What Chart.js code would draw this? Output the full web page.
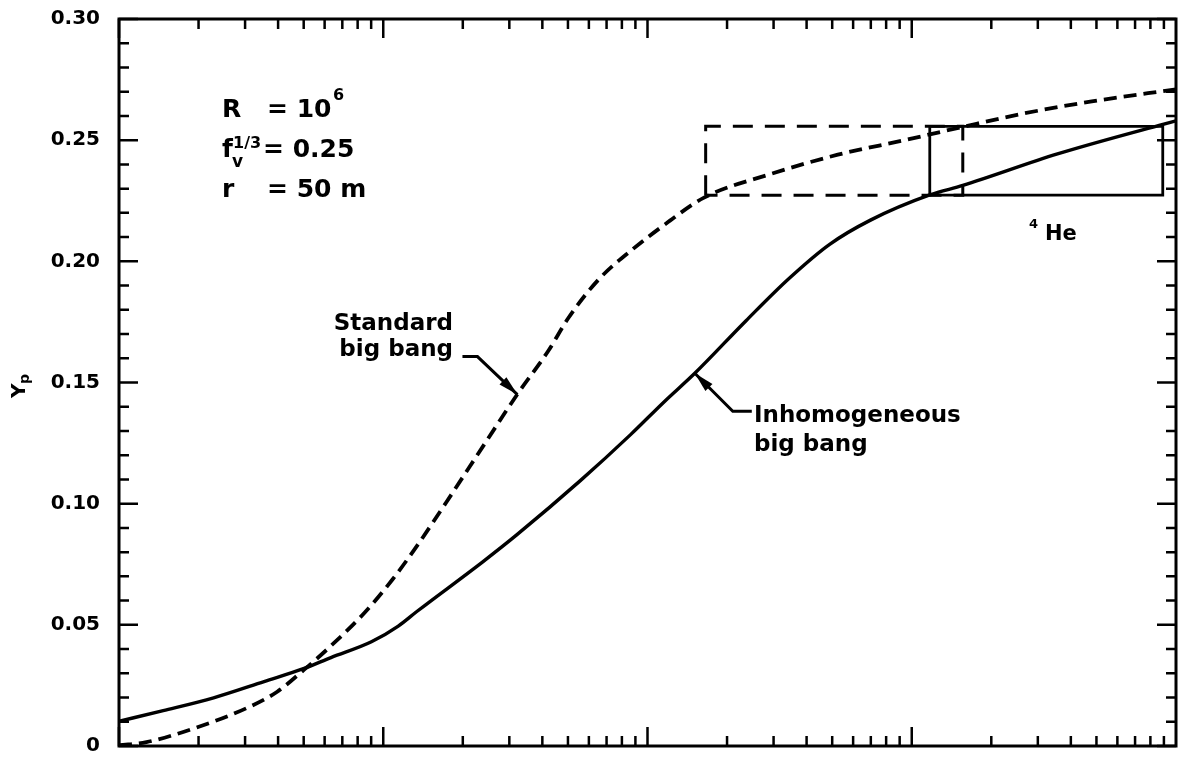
<!DOCTYPE html>
<html>
<head>
<meta charset="utf-8">
<script src="https://cdn.jsdelivr.net/npm/chart.js@4.4.1/dist/chart.umd.min.js"></script>
<style>
  html, body { margin: 0; padding: 0; background: #fff; }
  #wrap { width: 1183px; height: 762px; }
</style>
</head>
<body>
<div id="wrap"><canvas id="myChart" width="1183" height="762"></canvas></div>
<script>
// log x axis (baryon density, no labels printed), linear y axis Yp
const xMin = 1e-4;
const xMax = 1;
const yMin = 0;
const yMax = 0.30;
const yLabelStep = 0.05;
const yMinorStep = 0.01;

// standard big bang (dashed)
const standardX = [1.00e-4, 1.27e-4, 1.96e-4, 3.05e-4, 3.97e-4, 5.02e-4, 6.35e-4, 8.53e-4, 1.08e-3, 1.35e-3,
  1.73e-3, 2.47e-3, 3.22e-3, 4.21e-3, 5.01e-3, 6.53e-3, 8.79e-3, 1.18e-2, 1.63e-2, 2.92e-2,
  5.25e-2, 9.40e-2, 0.156, 0.265, 0.480, 1.0];
const standardY = [0.0003, 0.0016, 0.0076, 0.0157, 0.0224, 0.0315, 0.0414, 0.0552, 0.0685, 0.0830,
  0.1005, 0.1262, 0.1452, 0.1630, 0.1765, 0.1925, 0.2050, 0.2157, 0.2262, 0.2360,
  0.2440, 0.2500, 0.2555, 0.2610, 0.2660, 0.2710];

// inhomogeneous big bang (solid)
const inhomX = [1.00e-4, 1.47e-4, 2.28e-4, 3.54e-4, 5.02e-4, 6.34e-4, 9.02e-4, 1.14e-3, 1.34e-3, 2.38e-3,
  3.19e-3, 5.57e-3, 8.65e-3, 1.16e-2, 1.51e-2, 2.36e-2, 3.44e-2, 4.89e-2, 6.98e-2, 0.117,
  0.156, 0.356, 0.863, 1.0];
const inhomY = [0.0102, 0.0146, 0.0199, 0.0266, 0.0320, 0.0365, 0.0430, 0.0495, 0.0555, 0.0760,
  0.0870, 0.1095, 0.1286, 0.1422, 0.1538, 0.1755, 0.1930, 0.2070, 0.2170, 0.2274,
  0.2313, 0.2443, 0.2561, 0.2580];

// 4He allowed band and the x ranges it gives for each model
const heBandY = [0.2273, 0.2557];
const standardBoxX = [1.66e-2, 0.156];
const inhomBoxX = [0.117, 0.891];

// where the label arrows touch the curves
const standardArrowTip = [3.22e-3, 0.1450];
const inhomArrowTip = [1.51e-2, 0.1538];

const FONT = '"DejaVu Sans", sans-serif';

function pairs(xs, ys) {
  return xs.map((x, i) => ({ x: x, y: ys[i] }));
}

function boxPath(xs, ys) {
  return [
    { x: xs[0], y: ys[0] }, { x: xs[0], y: ys[1] },
    { x: xs[1], y: ys[1] }, { x: xs[1], y: ys[0] },
    { x: xs[0], y: ys[0] }
  ];
}

function arrow(ctx, pts) {
  ctx.beginPath();
  ctx.moveTo(pts[0][0], pts[0][1]);
  for (let i = 1; i < pts.length; i++) ctx.lineTo(pts[i][0], pts[i][1]);
  ctx.stroke();
  const [tx, ty] = pts[pts.length - 1];
  const [px, py] = pts[pts.length - 2];
  const a = Math.atan2(ty - py, tx - px);
  const L = 20, W = 5;
  const c = Math.cos(a), s = Math.sin(a);
  ctx.beginPath();
  ctx.moveTo(tx, ty);
  ctx.lineTo(tx - L * c + W * s, ty - L * s - W * c);
  ctx.lineTo(tx - L * c - W * s, ty - L * s + W * c);
  ctx.closePath();
  ctx.fill();
}

const frameTicks = {
  id: 'frameTicks',
  afterDatasetsDraw(chart) {
    const { ctx, chartArea: a, scales: { x, y } } = chart;
    ctx.save();
    ctx.strokeStyle = '#000';
    ctx.lineWidth = 3;
    ctx.strokeRect(a.left, a.top, a.right - a.left, a.bottom - a.top);

    ctx.lineWidth = 2.5;
    ctx.beginPath();
    // x ticks, top and bottom, pointing in
    for (let e = Math.log10(xMin); e < Math.log10(xMax); e++) {
      for (let k = 1; k <= 9; k++) {
        const px = x.getPixelForValue(k * Math.pow(10, e));
        const len = k === 1 ? 19 : 10;
        ctx.moveTo(px, a.bottom); ctx.lineTo(px, a.bottom - len);
        ctx.moveTo(px, a.top); ctx.lineTo(px, a.top + len);
      }
    }
    // y ticks, left and right
    const n = Math.round((yMax - yMin) / yMinorStep);
    for (let i = 0; i <= n; i++) {
      const py = y.getPixelForValue(yMin + i * yMinorStep);
      const len = i % Math.round(yLabelStep / yMinorStep) === 0 ? 19 : 10;
      ctx.moveTo(a.left, py); ctx.lineTo(a.left + len, py);
      ctx.moveTo(a.right, py); ctx.lineTo(a.right - len, py);
    }
    ctx.stroke();
    ctx.restore();
  },
  afterDraw(chart) {
    const { ctx, scales: { x, y } } = chart;
    ctx.save();
    ctx.fillStyle = '#000';
    ctx.strokeStyle = '#000';
    ctx.textBaseline = 'alphabetic';

    // y axis title: Y with subscript p, rotated
    ctx.save();
    ctx.translate(25, 398);
    ctx.rotate(-Math.PI / 2);
    ctx.font = 'bold 20px ' + FONT;
    ctx.fillText('Y', 0, 0);
    ctx.font = 'bold 14px ' + FONT;
    ctx.fillText('p', 14, 4);
    ctx.restore();

    // parameter block
    ctx.font = 'bold 25px ' + FONT;
    ctx.fillText('R', 222, 117);
    ctx.fillText('= 10', 267, 117);
    ctx.fillText('f', 222, 157);
    ctx.fillText('= 0.25', 263, 157);
    ctx.fillText('r', 222, 197);
    ctx.fillText('= 50 m', 267, 197);
    ctx.font = 'bold 16px ' + FONT;
    ctx.fillText('6', 333, 100);
    ctx.fillText('1/3', 233, 148);
    ctx.font = 'bold 17px ' + FONT;
    ctx.fillText('v', 232, 167);

    // curve labels
    ctx.font = 'bold 23px ' + FONT;
    ctx.textAlign = 'right';
    ctx.fillText('Standard', 453, 330);
    ctx.fillText('big bang', 453, 356);
    ctx.textAlign = 'left';
    ctx.fillText('Inhomogeneous', 754, 422);
    ctx.fillText('big bang', 754, 451);

    ctx.font = 'bold 21px ' + FONT;
    ctx.fillText('He', 1045, 240);
    ctx.font = 'bold 13px ' + FONT;
    ctx.fillText('4', 1029, 228);

    // arrows
    ctx.lineWidth = 3;
    const st = [x.getPixelForValue(standardArrowTip[0]), y.getPixelForValue(standardArrowTip[1])];
    arrow(ctx, [[st[0] - 55, st[1] - 38], [st[0] - 40, st[1] - 38], st]);
    const it = [x.getPixelForValue(inhomArrowTip[0]), y.getPixelForValue(inhomArrowTip[1])];
    arrow(ctx, [[it[0] + 57, it[1] + 38], [it[0] + 38, it[1] + 38], it]);
    ctx.restore();
  }
};

const datasets = [];
datasets.push({
  label: 'Standard big bang',
  data: pairs(standardX, standardY),
  borderColor: '#000',
  borderWidth: 3.8,
  borderDash: [13, 7],
  cubicInterpolationMode: 'monotone',
  pointRadius: 0,
  showLine: true,
});
datasets.push({
  label: 'Inhomogeneous big bang',
  data: pairs(inhomX, inhomY),
  borderColor: '#000',
  borderWidth: 3.4,
  cubicInterpolationMode: 'monotone',
  pointRadius: 0,
  showLine: true,
});
datasets.push({
  label: 'Standard 4He range',
  data: boxPath(standardBoxX, heBandY),
  borderColor: '#000',
  borderWidth: 3,
  borderDash: [20, 12],
  tension: 0,
  pointRadius: 0,
  showLine: true,
});
datasets.push({
  label: 'Inhomogeneous 4He range',
  data: boxPath(inhomBoxX, heBandY),
  borderColor: '#000',
  borderWidth: 2.8,
  tension: 0,
  pointRadius: 0,
  showLine: true,
});

new Chart(document.getElementById('myChart'), {
  type: 'scatter',
  data: { datasets },
  options: {
    responsive: false,
    animation: false,
    devicePixelRatio: 1,
    events: [],
    layout: { padding: { left: 0, right: 7, top: 19, bottom: 16 } },
    plugins: { legend: { display: false }, tooltip: { enabled: false } },
    scales: {
      x: {
        type: 'logarithmic',
        min: xMin,
        max: xMax,
        display: false,
      },
      y: {
        type: 'linear',
        min: yMin,
        max: yMax,
        afterFit: (scale) => {
          scale.width = 119;
          scale.paddingTop = 0;
          scale.paddingBottom = 0;
        },
        grid: { display: false, drawTicks: false },
        border: { display: false },
        ticks: {
          stepSize: yLabelStep,
          padding: 19,
          color: '#000',
          font: { family: FONT, size: 20, weight: 'bold' },
          callback: (v) => (v === 0 ? '0' : Number(v).toFixed(2)),
        },
      },
    },
  },
  plugins: [frameTicks],
});
</script>
</body>
</html>
